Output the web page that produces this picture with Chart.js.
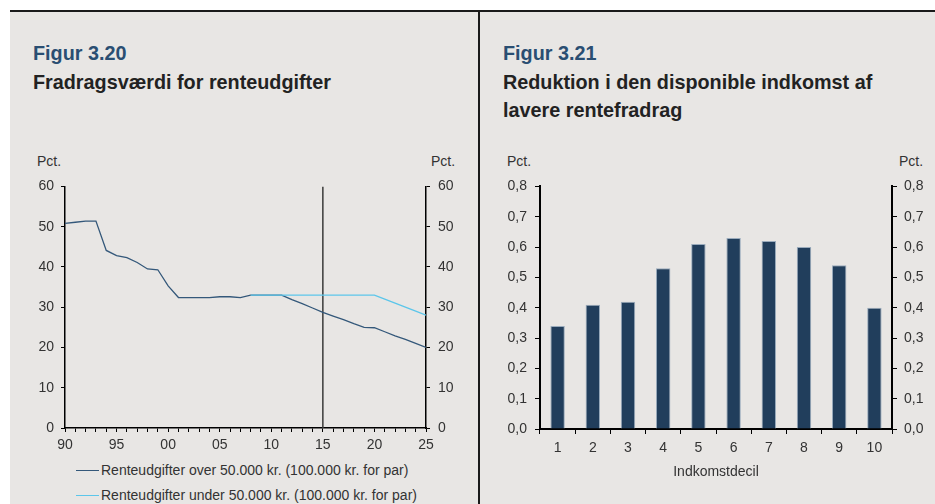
<!DOCTYPE html>
<html>
<head>
<meta charset="utf-8">
<title>Figur 3.20 og 3.21</title>
<script src="https://cdn.jsdelivr.net/npm/chart.js@4.4.1/dist/chart.umd.min.js"></script>
<style>
  body { margin: 0; background: #fff; font-family: "Liberation Sans", Arial, sans-serif; }
  #page { position: relative; width: 935px; height: 504px; overflow: hidden; }
  #bg { position: absolute; left: 10px; top: 10px; width: 925px; height: 494px; background: #e8e6e4; }
  #topline { position: absolute; left: 10px; top: 10px; width: 925px; height: 2px; background: #1a1a1a; }
  #divider { position: absolute; left: 478px; top: 10px; width: 2px; height: 494px; background: #1a1a1a; }
  .fig { position: absolute; font-weight: bold; font-size: 19.8px; color: #2a4e72; line-height: 28px; }
  .ttl { position: absolute; font-weight: bold; font-size: 19.8px; color: #222; line-height: 28px; }
  .unit { position: absolute; font-size: 14px; color: #333; line-height: 16px; }
  canvas { position: absolute; }
  .leg { position: absolute; font-size: 14px; color: #333; line-height: 16px; white-space: nowrap; }
  .leg span { display: inline-block; width: 23px; height: 1px; vertical-align: middle; margin-right: 2px; position: relative; top: -1px; }
</style>
</head>
<body>
<div id="page">
  <div id="bg"></div>
  <div id="topline"></div>
  <div id="divider"></div>

  <div class="fig" style="left:33px; top:39px;">Figur 3.20</div>
  <div class="ttl" style="left:33px; top:68px;">Fradragsværdi for renteudgifter</div>
  <div class="unit" style="left:37px; top:153px;">Pct.</div>
  <div class="unit" style="left:431px; top:153px;">Pct.</div>
  <canvas id="lineChart" width="450" height="290" style="left:20px; top:170px;"></canvas>
  <div class="leg" style="left:76px; top:462px;"><span style="background:#34587a"></span>Renteudgifter over 50.000 kr. (100.000 kr. for par)</div>
  <div class="leg" style="left:76px; top:487px;"><span style="background:#5cc6ea"></span>Renteudgifter under 50.000 kr. (100.000 kr. for par)</div>

  <div class="fig" style="left:503px; top:39px;">Figur 3.21</div>
  <div class="ttl" style="left:503px; top:68px;">Reduktion i den disponible indkomst af<br>lavere rentefradrag</div>
  <div class="unit" style="left:507px; top:153px;">Pct.</div>
  <div class="unit" style="left:899px; top:153px;">Pct.</div>
  <canvas id="barChart" width="455" height="315" style="left:480px; top:170px;"></canvas>
</div>

<script>
  // Figur 3.20: fradragsværdi, pct.
  var years = [1990, 1991, 1992, 1993, 1994, 1995, 1996, 1997, 1998, 1999,
               2000, 2001, 2002, 2003, 2004, 2005, 2006, 2007, 2008, 2009,
               2010, 2011, 2012, 2013, 2014, 2015, 2016, 2017, 2018, 2019,
               2020, 2021, 2022, 2023, 2024, 2025];
  var overLimit = [50.8, 51.1, 51.4, 51.4, 44.1, 42.8, 42.3, 41.1, 39.5, 39.3,
                   35.3, 32.4, 32.4, 32.4, 32.4, 32.6, 32.6, 32.4, 33.0, 33.0,
                   33.0, 33.0, 31.9, 30.9, 29.8, 28.7, 27.8, 26.9, 25.9, 25.0,
                   24.9, 23.9, 22.9, 22.0, 21.0, 20.0];
  var underLimit = [null, null, null, null, null, null, null, null, null, null,
                    null, null, null, null, null, null, null, null, 33.0, 33.0,
                    33.0, 33.0, 33.0, 33.0, 33.0, 33.0, 33.0, 33.0, 33.0, 33.0,
                    33.0, 32.0, 31.0, 30.0, 29.0, 28.0];
  var markerYear = 2015;
  var lineLabels = ['Renteudgifter over 50.000 kr. (100.000 kr. for par)',
                    'Renteudgifter under 50.000 kr. (100.000 kr. for par)'];

  // Figur 3.21: reduktion pr. indkomstdecil, pct.
  var deciles = ['1', '2', '3', '4', '5', '6', '7', '8', '9', '10'];
  var reduction = [0.34, 0.41, 0.42, 0.53, 0.61, 0.63, 0.62, 0.60, 0.54, 0.40];

  Chart.defaults.font.family = '"Liberation Sans", Arial, sans-serif';
  Chart.defaults.font.size = 14;
  Chart.defaults.color = '#333';

  function pts(vals) {
    return years.map(function (yr, i) { return { x: yr, y: vals[i] }; });
  }

  function fixWidth(w) { return function (s) { s.width = w; }; }
  function fixHeight(h) { return function (s) { s.height = h; }; }

  new Chart(document.getElementById('lineChart'), {
    type: 'line',
    data: {
      datasets: [
        {
          label: lineLabels[1],
          data: pts(underLimit),
          borderColor: '#5cc6ea',
          borderWidth: 1.3,
          pointRadius: 0,
          spanGaps: false
        },
        {
          label: lineLabels[0],
          data: pts(overLimit),
          borderColor: '#34587a',
          borderWidth: 1.3,
          pointRadius: 0
        },
        {
          label: 'marker',
          data: [{ x: markerYear, y: 0 }, { x: markerYear, y: 60 }],
          borderColor: '#3a3a3a',
          borderWidth: 1.5,
          pointRadius: 0
        }
      ]
    },
    options: {
      responsive: false,
      animation: false,
      devicePixelRatio: 1,
      layout: { padding: { top: 16, left: 0, right: 0, bottom: 0 } },
      plugins: { legend: { display: false }, tooltip: { enabled: false } },
      scales: {
        x: {
          type: 'linear',
          min: 1990,
          max: 2025,
          afterFit: fixHeight(32),
          border: { color: '#000', width: 1.5 },
          grid: { drawOnChartArea: false, drawTicks: true, tickLength: 4, color: '#000', lineWidth: 1 },
          ticks: {
            stepSize: 1,
            autoSkip: false,
            maxRotation: 0,
            padding: 5,
            callback: function (v) { return v % 5 === 0 ? String(v).slice(2) : ''; }
          }
        },
        y: {
          position: 'left',
          min: 0,
          max: 60,
          afterFit: fixWidth(45),
          border: { color: '#000', width: 1.5 },
          grid: { drawOnChartArea: false, tickLength: 4, color: '#000' },
          ticks: { stepSize: 10, padding: 7 }
        },
        y2: {
          position: 'right',
          min: 0,
          max: 60,
          afterFit: fixWidth(44),
          border: { color: '#000', width: 1.5 },
          grid: { drawOnChartArea: false, tickLength: 4, color: '#000' },
          ticks: { stepSize: 10, padding: 8 }
        }
      }
    }
  });

  function comma(v) { return v.toFixed(1).replace('.', ','); }

  new Chart(document.getElementById('barChart'), {
    type: 'bar',
    data: {
      labels: deciles,
      datasets: [{
        data: reduction,
        backgroundColor: '#213e5c',
        borderColor: '#9aabbc',
        borderWidth: 1,
        barPercentage: 0.41,
        categoryPercentage: 1.0
      }]
    },
    options: {
      responsive: false,
      animation: false,
      devicePixelRatio: 1,
      layout: { padding: { top: 16, left: 0, right: 0, bottom: 0 } },
      plugins: { legend: { display: false }, tooltip: { enabled: false } },
      scales: {
        x: {
          afterFit: fixHeight(56),
          border: { color: '#000', width: 2 },
          grid: { offset: true, drawOnChartArea: false, tickLength: 5, color: '#000' },
          ticks: { padding: 6, maxRotation: 0 },
          title: { display: true, text: 'Indkomstdecil', padding: { top: 1 }, font: { size: 14 } }
        },
        y: {
          position: 'left',
          min: 0,
          max: 0.8,
          afterFit: fixWidth(60),
          border: { color: '#000', width: 2 },
          grid: { drawOnChartArea: false, tickLength: 5, color: '#000' },
          ticks: { stepSize: 0.1, padding: 8, callback: comma }
        },
        y2: {
          position: 'right',
          min: 0,
          max: 0.8,
          afterFit: fixWidth(43),
          border: { color: '#000', width: 2 },
          grid: { drawOnChartArea: false, tickLength: 5, color: '#000' },
          ticks: { stepSize: 0.1, padding: 7, callback: comma }
        }
      }
    }
  });
</script>
</body>
</html>
